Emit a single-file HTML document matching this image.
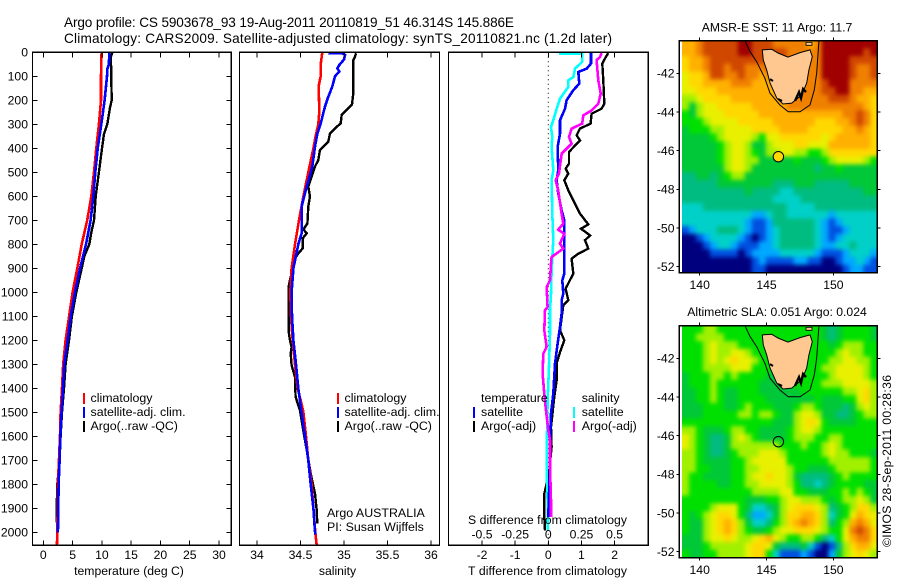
<!DOCTYPE html>
<html lang="en">
<head>
<meta charset="utf-8">
<title>Argo profile CS 5903678_93</title>
<style>
html,body{margin:0;padding:0;background:#fff;}
svg{display:block;}
text{font-family:"Liberation Sans",sans-serif;font-size:12.2px;fill:#000;}
.title{font-size:13.6px;}
.leg{font-size:12.4px;}
.ln{fill:none;stroke-linejoin:miter;shape-rendering:crispEdges;}
.frame{fill:none;stroke:#000;stroke-width:1.4;shape-rendering:crispEdges;}
</style>
</head>
<body>
<svg id="chart" xmlns="http://www.w3.org/2000/svg" width="900" height="580" viewBox="0 0 900 580">
  <defs>
    <filter id="soft" x="-5%" y="-5%" width="110%" height="110%" color-interpolation-filters="sRGB"><feGaussianBlur stdDeviation="2.2"/></filter>
    <clipPath id="clip-sst"><rect x="682" y="40.7" width="195.3" height="232"/></clipPath>
    <clipPath id="clip-sla"><rect x="682" y="325.7" width="195.3" height="232"/></clipPath>
  </defs>
  <rect width="900" height="580" fill="#fff"/>
  <g id="maps"></g>
  <g id="profiles"></g>
  <g id="axes"></g>
  <text class="title" x="64" y="27" textLength="450" lengthAdjust="spacing">Argo profile: CS 5903678_93 19-Aug-2011 20110819_51 46.314S 145.886E</text>
  <text class="title" x="64" y="43" textLength="548" lengthAdjust="spacing">Climatology: CARS2009. Satellite-adjusted climatology: synTS_20110821.nc (1.2d later)</text>

  <text x="129" y="575" text-anchor="middle">temperature (deg C)</text>
  <text x="337.5" y="575" text-anchor="middle">salinity</text>
  <text x="547.5" y="575" text-anchor="middle" textLength="159" lengthAdjust="spacing">T difference from climatology</text>
  <text x="547.5" y="524" text-anchor="middle" textLength="159" lengthAdjust="spacing">S difference from climatology</text>

  <g>
    <rect x="83" y="393" width="2" height="11" fill="#f00"/>
    <rect x="83" y="407" width="2" height="11" fill="#00f"/>
    <rect x="83" y="421" width="2" height="11" fill="#000"/>
    <text class="leg" x="90.5" y="402">climatology</text>
    <text class="leg" x="90.5" y="416">satellite-adj. clim.</text>
    <text class="leg" x="90.5" y="430">Argo(..raw -QC)</text>
  </g>
  <g>
    <rect x="337" y="393" width="2" height="11" fill="#f00"/>
    <rect x="337" y="407" width="2" height="11" fill="#00f"/>
    <rect x="337" y="421" width="2" height="11" fill="#000"/>
    <text class="leg" x="344.5" y="402">climatology</text>
    <text class="leg" x="344.5" y="416">satellite-adj. clim.</text>
    <text class="leg" x="344.5" y="430">Argo(..raw -QC)</text>
  </g>
  <text class="leg" x="327" y="517">Argo AUSTRALIA</text>
  <text class="leg" x="327" y="531">PI: Susan Wijffels</text>

  <g>
    <text class="leg" x="481" y="402">temperature</text>
    <rect x="473" y="407" width="2" height="11" fill="#00f"/>
    <rect x="473" y="421" width="2" height="11" fill="#000"/>
    <text class="leg" x="481" y="416">satellite</text>
    <text class="leg" x="481" y="430">Argo(-adj)</text>
    <text class="leg" x="581.7" y="402">salinity</text>
    <rect x="573" y="407" width="2" height="11" fill="#00ffff"/>
    <rect x="573" y="421" width="2" height="11" fill="#ff00ff"/>
    <text class="leg" x="581.7" y="416">satellite</text>
    <text class="leg" x="581.7" y="430">Argo(-adj)</text>
  </g>

  <text x="777" y="31.5" text-anchor="middle">AMSR-E SST: 11 Argo: 11.7</text>
  <text x="777" y="316" text-anchor="middle">Altimetric SLA: 0.051 Argo: 0.024</text>
  <text transform="translate(891,547) rotate(-90)" textLength="172" lengthAdjust="spacing">©IMOS 28-Sep-2011 00:28:36</text>
</svg>

<script>
/* ---------- profile data ---------- */
const depthTicks = [0,100,200,300,400,500,600,700,800,900,1000,1100,1200,1300,1400,1500,1600,1700,1800,1900,2000];
const tempTicks = [0,5,10,15,20,25,30];
const salTicks = [34,34.5,35,35.5,36];
const salTickLabels = ["34","34.5","35","35.5","36"];
const tDiffTicks = [-2,-1,0,1,2];
const sDiffTicks = [-0.5,-0.25,0,0.25,0.5];
const sDiffTickLabels = ["-0.5","-0.25","0","0.25","0.5"];

const tempClimDepth = [0,100,200,300,400,500,600,700,800,900,1000,1100,1200,1300,1400,1500,1600,1800,2000,2055];
const tempClim = [9.96,9.85,9.85,9.5,9.05,8.65,8.2,7.5,6.55,5.8,5.0,4.4,3.8,3.4,3.2,2.95,2.85,2.5,2.4,2.33];
const tempSatDepth = [0,50,70,100,200,300,400,500,600,700,800,900,1000,1100,1200,1300,1400,1500,1600,1700,1800,1900,2000];
const tempSat = [11.27,11.2,10.93,10.87,10.47,9.9,9.28,8.88,8.54,8.08,7.29,6.26,5.41,4.67,4.15,3.59,3.36,3.13,2.9,2.79,2.62,2.56,2.5];
const tempArgoDepth = [0,20,200,230,300,340,400,500,600,700,750,800,850,900,1000,1100,1200,1300,1400,1500,1600,1700,1800,1900,1960];
const tempArgo = [11.78,11.55,11.67,11.38,10.93,10.36,10.02,9.5,8.94,8.65,8.2,7.85,7.0,6.55,5.63,4.89,4.38,3.81,3.53,3.19,2.96,2.79,2.39,2.28,2.28];

const salClimDepth = [0,50,100,140,250,300,350,400,500,600,700,800,900,1000,1100,1200,1300,1400,1450,1500,1600,1700,1800,1900,2000,2055];
const salClim = [34.751,34.732,34.732,34.709,34.716,34.705,34.674,34.648,34.59,34.533,34.483,34.437,34.398,34.383,34.391,34.41,34.437,34.467,34.502,34.533,34.563,34.59,34.628,34.648,34.67,34.686];
const salSatDepth = [3,5,11,30,53,67,80,100,143,185,226,296,340,393,476,560,643,754,800,900,1000,1100,1200,1300,1400,1500,1600,1700,1800,1900,1980,2010];
const salSat = [34.82,34.992,35.011,35.0,34.946,34.923,34.946,34.897,34.866,34.82,34.782,34.732,34.693,34.667,34.636,34.571,34.513,34.513,34.475,34.418,34.398,34.402,34.418,34.448,34.475,34.513,34.552,34.59,34.617,34.648,34.663,34.67];
const salArgoDepth = [4,18,32,171,217,247,261,296,317,338,372,407,449,476,518,560,601,643,713,738,754,775,817,838,858,893,949,976,1032,1165,1200,1228,1256,1304,1353,1436,1492,1561,1617,1672,1756,1839,1908,1964];
const salArgo = [35.138,35.126,35.107,35.107,35.092,35.011,34.973,34.962,34.897,34.839,34.82,34.724,34.705,34.667,34.628,34.59,34.609,34.59,34.579,34.533,34.571,34.525,34.525,34.475,34.437,34.418,34.379,34.364,34.364,34.364,34.379,34.398,34.387,34.398,34.437,34.444,34.494,34.525,34.552,34.579,34.617,34.667,34.686,34.693];

const tDiffSatDepth = [3,47,68,82,131,158,200,235,283,339,394,492,533,589,658,700,922,950,1006,1033,1089,1144,1214,1297,1422,1506,1617,1728,1839,1936];
const tDiffSat = [1.287,1.287,1.157,0.905,0.935,0.754,0.553,0.503,0.352,0.352,0.282,0.302,0.251,0.302,0.402,0.483,0.483,0.422,0.453,0.402,0.402,0.352,0.281,0.201,0.151,0.08,0.05,0.05,0.02,0];
const tDiffArgoDepth = [3,26,47,117,214,235,256,297,318,346,367,415,464,485,506,533,575,617,672,717,735,763,783,818,839,860,922,957,985,1033,1054,1158,1200,1249,1297,1367,1436,1561,1644,1756,1839,1936,1992];
const tDiffArgo = [1.81,1.709,1.629,1.659,1.689,1.609,1.307,1.277,0.955,0.855,0.955,0.623,0.623,0.523,0.603,0.483,0.603,0.754,0.955,1.207,0.985,1.257,1.106,1.207,0.905,0.704,0.754,0.623,0.523,0.603,0.452,0.352,0.483,0.352,0.251,0.251,0.181,0.08,0.1,0.02,-0.121,-0.121,-0.1];
const sDiffSatDepth = [5,6,40,68,103,117,144,193,235,283,311,353,394,492,533,672,783,908,1006,1075,1172,1311,1450,1589,1728,1867,1992];
const sDiffSat = [0.08,0.256,0.256,0.201,0.189,0.151,0.151,0.088,0.063,0.038,0.02,0.03,0.025,0.038,0.025,0.03,0.038,0.025,0.02,0.013,0.013,0.005,-0.005,-0.01,-0.013,-0.005,-0.005];
const sDiffArgoDepth = [3,19,33,117,172,214,242,263,297,318,353,381,422,506,533,575,672,714,739,756,797,818,853,881,950,978,1061,1075,1158,1228,1256,1339,1422,1478,1575,1617,1728,1867,1936];
const sDiffArgo = [0.402,0.39,0.364,0.377,0.395,0.377,0.327,0.264,0.256,0.176,0.156,0.176,0.101,0.08,0.055,0.075,0.1,0.113,0.075,0.121,0.088,0.113,0.025,0.02,0.013,-0.013,-0.005,-0.025,-0.03,-0.013,-0.038,-0.043,-0.03,-0.02,0,0.013,0.013,0.02,0.02];

/* ---------- map data ---------- */
const lonTicks = [140,145,150];
const latTicks = [-42,-44,-46,-48,-50,-52];
const argoLon = 145.886;
const argoLat = -46.314;
const levelColors = ["#00007f","#0050e0","#00a8ff","#00d0c8","#00bc80","#00c838","#00e000","#a0f000","#e8f000","#ffd800","#ffb000","#f08000","#d04800","#a00000"];
const coastLon = [144.68,145.39,145.86,146.6,147.5,148.25,148.42,148.17,148.0,147.63,146.88,146.23,145.76,145.26,145.01,144.76];
const coastLat = [-40.79,-40.76,-40.95,-41.16,-40.93,-40.79,-41.14,-41.83,-42.5,-43.12,-43.54,-43.59,-43.28,-42.5,-41.83,-41.31];
const shelfLon = [143.39,143.77,144.26,144.88,145.26,146.0,146.63,147.5,148.25,148.57,148.75,148.87,148.92];
const shelfLat = [-40.32,-40.88,-41.4,-42.26,-43.03,-43.64,-43.99,-43.99,-43.64,-42.86,-41.98,-40.79,-40.31];
const inletLon = [147.13,147.43,147.58,147.73,147.95];
const inletLat = [-43.43,-42.97,-43.28,-42.81,-42.97];
const inletSouthLon = [145.86,146.16];
const inletSouthLat = [-43.33,-43.43];
const inletWestLon = [145.26,145.48];
const inletWestLat = [-42.3,-42.4];
const islandLon = [147.95,148.4,148.4,147.95];
const islandLat = [-40.4,-40.4,-40.55,-40.55];

const sstGrid = [
[10,10,11,12,12,12,12,12,13,13,12,12,12,11,11,11,11,11,10,11,13,13,13,13,13,13,13,13],
[10,10,11,12,12,12,12,12,13,13,12,12,12,12,12,11,11,11,11,11,13,13,13,13,13,13,12,13],
[9,10,10,11,12,12,12,12,12,12,12,12,12,12,12,11,11,11,11,11,13,13,13,13,12,12,12,12],
[9,10,10,11,12,12,11,12,12,11,11,11,12,12,12,11,11,11,11,11,13,13,13,13,12,11,11,12],
[8,9,9,10,12,12,11,11,12,11,11,10,11,12,12,11,11,11,11,11,13,13,13,13,12,11,11,12],
[8,9,9,10,10,10,10,11,11,11,10,10,10,11,11,11,11,11,11,11,12,13,13,13,11,11,11,11],
[8,8,9,9,9,10,10,10,10,10,10,10,10,10,10,11,11,11,11,11,12,12,13,13,11,11,10,10],
[7,7,8,9,9,9,9,10,10,10,10,10,10,10,10,11,11,11,11,11,11,12,12,12,11,10,10,9],
[7,5,7,8,8,9,9,9,9,9,10,10,10,10,10,11,11,11,11,11,11,11,11,11,11,11,10,9],
[6,5,7,8,8,8,9,9,9,9,9,10,10,10,10,10,10,10,10,10,10,10,10,11,11,12,11,9],
[6,6,6,7,8,8,8,8,9,9,9,9,9,10,10,10,10,10,10,9,9,9,10,10,11,12,11,9],
[5,6,6,6,7,7,8,8,8,8,9,9,9,9,10,10,10,10,9,9,9,9,9,10,10,11,10,9],
[5,5,5,5,6,7,8,8,8,8,7,6,8,8,9,9,9,9,9,9,8,9,10,10,10,10,10,9],
[5,5,5,5,5,6,7,8,8,7,5,5,7,8,8,8,9,9,8,8,8,10,10,10,10,10,10,9],
[5,5,5,5,5,6,7,8,8,7,6,5,7,7,8,8,7,7,6,6,7,9,9,9,9,9,9,9],
[5,5,5,5,5,6,7,8,8,7,7,5,5,5,5,5,6,5,5,5,6,7,8,8,8,8,7,6],
[5,5,5,5,5,5,7,8,8,7,5,5,5,5,5,5,5,5,5,4,5,5,6,5,5,5,5,5],
[4,4,5,5,4,5,6,7,7,5,5,5,5,5,5,5,5,5,5,5,5,5,5,5,5,5,5,5],
[4,4,4,4,4,5,5,5,5,5,5,5,5,4,4,4,5,5,5,4,4,4,4,4,5,5,5,5],
[4,4,4,4,4,4,4,4,4,5,4,4,4,4,3,3,4,4,4,4,4,4,4,4,4,4,5,5],
[4,4,4,4,4,4,4,4,4,4,4,4,4,3,3,3,3,4,4,4,4,4,4,4,4,4,4,4],
[3,3,3,4,4,4,4,4,4,4,4,4,4,4,4,3,3,3,3,4,4,4,4,4,4,4,4,4],
[3,3,3,3,3,3,3,3,3,3,2,2,3,4,4,3,3,3,3,3,3,2,3,3,3,3,3,3],
[3,3,3,3,3,3,3,3,3,2,1,1,2,4,4,4,4,4,4,3,2,1,2,3,3,3,3,3],
[1,2,3,3,3,4,4,4,3,2,1,1,2,3,4,4,4,4,4,3,2,1,1,2,3,3,3,3],
[0,0,1,2,3,3,3,3,2,1,0,1,2,3,4,4,4,4,4,3,2,1,2,3,3,3,3,3],
[0,0,0,1,2,3,3,2,1,1,1,2,2,3,4,4,4,4,4,3,2,2,3,3,4,3,3,3],
[0,0,0,0,1,1,1,1,0,1,2,2,2,2,3,3,3,3,3,2,1,1,1,2,3,3,3,2],
[0,0,0,0,0,0,0,0,0,0,1,2,1,1,1,1,2,2,1,1,0,0,1,2,2,3,2,1],
[0,0,0,0,0,0,0,0,0,0,1,1,0,0,0,0,0,0,0,0,0,0,0,1,2,2,1,1]
];
const slaGrid = [
[6,6,6,7,7,6,6,6,6,6,6,6,6,6,6,6,6,6,6,6,5,4,5,6,6,6,6,5],
[6,6,7,7,7,7,6,6,6,6,6,6,6,6,6,6,6,6,6,6,5,4,5,6,6,6,6,5],
[6,6,6,7,8,7,7,7,6,6,6,6,6,6,6,6,6,6,6,6,6,5,6,7,7,7,6,6],
[6,6,6,7,8,7,7,8,8,7,6,6,6,6,6,6,6,6,6,6,6,6,7,8,7,7,6,6],
[6,6,6,7,8,7,8,9,8,8,7,6,6,6,6,6,6,6,6,6,6,7,7,8,8,7,7,6],
[6,6,6,7,7,7,7,8,8,8,6,6,6,6,6,6,6,6,6,6,7,7,8,8,8,8,7,6],
[5,6,6,6,7,7,6,7,6,6,6,6,5,5,6,6,6,6,6,6,6,7,8,8,8,8,7,6],
[5,6,6,6,7,6,6,6,6,6,6,5,5,5,5,6,6,6,6,6,7,7,7,8,8,8,8,7],
[5,5,6,6,7,6,5,5,6,6,6,5,5,5,5,5,5,6,6,6,6,6,6,7,7,8,9,7],
[5,5,6,6,7,6,5,5,6,6,6,6,5,5,5,5,5,5,5,6,5,5,5,6,6,8,9,7],
[5,5,5,6,6,6,5,5,6,7,6,6,6,5,5,5,6,7,7,6,5,5,5,4,5,7,8,7],
[5,5,5,6,6,6,6,6,7,7,6,7,7,6,5,5,7,8,8,7,5,5,4,4,5,6,7,7],
[6,6,6,6,6,6,6,6,6,6,6,6,6,5,5,5,7,8,9,8,6,5,5,5,5,6,6,6],
[7,7,6,5,5,5,6,7,7,6,6,5,5,5,5,6,7,8,8,7,6,6,6,6,6,6,6,6],
[8,7,6,5,4,4,5,7,8,7,6,5,5,5,5,6,7,7,7,6,6,7,7,6,6,6,6,6],
[8,7,6,5,4,4,5,7,7,7,7,7,7,7,6,6,6,7,6,6,7,8,7,6,6,6,6,6],
[7,7,6,5,4,4,5,6,7,7,7,8,8,8,7,6,6,6,6,6,7,8,7,7,6,6,6,5],
[7,7,6,5,5,5,5,6,6,7,8,8,8,8,8,6,6,6,6,6,6,7,7,7,7,7,7,6],
[7,7,6,6,5,5,5,6,6,7,7,8,8,8,8,7,6,6,5,5,5,6,7,7,7,7,7,6],
[7,6,6,5,5,5,5,6,6,7,8,8,9,8,8,7,5,4,4,4,4,5,6,7,6,6,6,6],
[7,6,6,6,6,5,5,6,6,7,7,8,8,8,8,7,6,4,4,3,4,5,6,6,6,6,5,5],
[7,6,6,6,6,6,6,6,6,6,7,7,7,7,8,8,6,6,5,5,5,6,6,7,6,7,6,5],
[6,6,6,6,6,6,6,6,6,5,5,5,6,6,7,8,8,7,7,7,6,5,6,7,7,8,7,5],
[6,6,6,6,7,8,8,8,6,5,3,3,4,5,7,8,9,9,9,8,7,4,5,6,7,9,9,7],
[6,5,6,7,8,9,9,8,6,4,2,2,3,5,7,9,9,10,10,9,7,3,5,6,8,10,9,8],
[6,5,5,7,8,9,10,9,7,5,3,3,4,6,7,9,10,11,10,9,7,4,6,7,10,11,10,8],
[6,5,5,7,8,9,10,9,7,6,5,5,6,7,8,8,9,9,9,8,7,6,6,8,11,12,11,9],
[5,5,5,7,8,8,9,8,7,7,8,9,10,8,7,6,6,7,7,6,4,3,6,8,10,11,11,9],
[5,5,5,6,7,7,7,7,7,8,9,9,8,5,4,4,4,5,3,1,0,1,4,7,9,10,10,8],
[6,5,5,6,6,7,7,7,7,8,9,9,6,3,1,1,1,2,1,0,0,2,5,7,8,9,8,7]
];

/* ---------- drawing ---------- */
const NS = "http://www.w3.org/2000/svg";
const profilesG = document.getElementById("profiles");
const axesG = document.getElementById("axes");
const mapsG = document.getElementById("maps");

function make(tag, attrs, parent) {
  const n = document.createElementNS(NS, tag);
  for (const k in attrs) n.setAttribute(k, attrs[k]);
  parent.appendChild(n);
  return n;
}

const plotTop = 52.3, plotBottom = 545.3;
const yDepth = d => plotTop + d * 0.24;
const xTemp = v => 43.3 + v * 5.857;
const xSal = v => 257 + (v - 34) * 87;
const xTDiff = v => 548.3 + v * 33.15;
const xSDiff = v => 548.3 + v * 132.6;

function profile(depths, values, xf, color, width, name) {
  const pts = values.map((v, i) => xf(v).toFixed(1) + "," + yDepth(depths[i]).toFixed(1)).join(" ");
  const line = make("polyline", {points: pts, class: "ln", stroke: color, "stroke-width": width}, profilesG);
  
  
}

function frame(x0, x1, y0, y1, name) {
  const r = make("rect", {x: x0, y: y0, width: x1 - x0, height: y1 - y0, class: "frame"}, axesG);
  
  
}

function tick(x1, y1, x2, y2) {
  const t = make("line", {x1, y1, x2, y2, stroke: "#000", "stroke-width": 1, "shape-rendering": "crispEdges"}, axesG);
  
  
}

function label(x, y, str, anchor) {
  const t = make("text", {x, y, "text-anchor": anchor}, axesG);
  t.textContent = str;
  
  
}

function xTicks(values, labels, xf, labelY) {
  values.forEach((v, i) => {
    const x = xf(v);
    tick(x, plotTop, x, plotTop + 5);
    tick(x, plotBottom, x, plotBottom - 5);
    if (labelY) label(x, labelY, labels[i], "middle");
  });
}

/* temperature panel */
profile(tempArgoDepth, tempArgo, xTemp, "#000", 2.4, "temperature-argo-line");
profile(tempClimDepth, tempClim, xTemp, "#f00", 2.6, "temperature-climatology-line");
profile(tempSatDepth, tempSat, xTemp, "#00f", 2.6, "temperature-satellite-line");
frame(32.5, 231.3, plotTop, plotBottom, "temperature-panel-frame");
xTicks(tempTicks, tempTicks.map(String), xTemp, 559);
depthTicks.forEach(d => {
  const y = yDepth(d);
  tick(32.5, y, 37.5, y);
  tick(231.3, y, 226.3, y);
  label(28, y + 4.4, String(d), "end");
});

/* salinity panel */
profile(salArgoDepth, salArgo, xSal, "#000", 2.4, "salinity-argo-line");
profile(salClimDepth, salClim, xSal, "#f00", 2.6, "salinity-climatology-line");
profile(salSatDepth, salSat, xSal, "#00f", 2.6, "salinity-satellite-line");
frame(239.5, 439.5, plotTop, plotBottom, "salinity-panel-frame");
xTicks(salTicks, salTickLabels, xSal, 559);

/* difference panel */
const zeroLine = make("line", {x1: xTDiff(0), y1: plotTop, x2: xTDiff(0), y2: plotBottom, stroke: "#000", "stroke-width": 1, "stroke-dasharray": "1 3.5"}, profilesG);


profile(tDiffArgoDepth, tDiffArgo, xTDiff, "#000", 2.4, "t-difference-argo-line");
profile(sDiffSatDepth, sDiffSat, xSDiff, "#00ffff", 2.6, "s-difference-satellite-line");
profile(tDiffSatDepth, tDiffSat, xTDiff, "#00f", 2.6, "t-difference-satellite-line");
profile(sDiffArgoDepth, sDiffArgo, xSDiff, "#ff00ff", 2.6, "s-difference-argo-line");
frame(448.5, 648.3, plotTop, plotBottom, "difference-panel-frame");
xTicks(tDiffTicks, tDiffTicks.map(String), xTDiff, 559);
sDiffTicks.forEach((v, i) => label(xSDiff(v), 538.7, sDiffTickLabels[i], "middle"));

/* maps */
function drawMap(grid, top, prefix, markerFill) {
  const lat0 = -42, y42 = top + 32.6;
  const xLon = lon => 699.7 + (lon - 140) * 13.37;
  const yLat = lat => y42 + (lat0 - lat) * 19.33;
  const lonStart = 138.68, lonStep = 14.6 / 28, latStart = -40.31, latStep = 12 / 30;
  const clipG = make("g", {"clip-path": "url(#clip-" + prefix + ")"}, mapsG);
  
  
  const softG = make("g", {filter: "url(#soft)"}, clipG);
  const pad = 10;
  grid.forEach((row, r) => {
    row.forEach((lev, c) => {
      let x0 = xLon(lonStart + c * lonStep), y0 = yLat(latStart - r * latStep);
      let x1 = xLon(lonStart + (c + 1) * lonStep), y1 = yLat(latStart - (r + 1) * latStep);
      if (c === 0) x0 -= pad;
      if (c === row.length - 1) x1 += pad;
      if (r === 0) y0 -= pad;
      if (r === grid.length - 1) y1 += pad;
      const cell = make("rect", {x: x0.toFixed(2), y: y0.toFixed(2), width: (x1 - x0 + 0.4).toFixed(2), height: (y1 - y0 + 0.4).toFixed(2), fill: levelColors[lev]}, softG);
      
      
    });
  });
  const pts = (lons, lats) => lons.map((v, i) => xLon(v).toFixed(1) + "," + yLat(lats[i]).toFixed(1)).join(" ");
  const shelf = make("polyline", {points: pts(shelfLon, shelfLat), fill: "none", stroke: "#000", "stroke-width": 1}, mapsG);
  
  
  const land = make("polygon", {points: pts(coastLon, coastLat), fill: "#ffc890", stroke: "#000", "stroke-width": 1}, mapsG);
  
  
  const inlet = make("polyline", {points: pts(inletLon, inletLat), fill: "none", stroke: "#000", "stroke-width": 2.4}, mapsG);
  
  
  const inletS = make("polyline", {points: pts(inletSouthLon, inletSouthLat), fill: "none", stroke: "#000", "stroke-width": 2}, mapsG);
  
  
  const inletW = make("polyline", {points: pts(inletWestLon, inletWestLat), fill: "none", stroke: "#000", "stroke-width": 2}, mapsG);
  
  
  const island = make("polygon", {points: pts(islandLon, islandLat), fill: "#ffc890", stroke: "#000", "stroke-width": 0.8}, mapsG);
  
  
  const marker = make("circle", {cx: xLon(argoLon), cy: yLat(argoLat), r: 5.2, fill: markerFill, stroke: "#000", "stroke-width": 1}, mapsG);
  
  

  const left = 679.3, right = 877.3, bottom = top + 232;
  frame(left, right, top, bottom, prefix + "-map-frame");
  lonTicks.forEach(v => {
    const x = xLon(v);
    tick(x, top, x, top - 3);
    tick(x, bottom, x, bottom + 3);
    label(x, bottom + 16.5, String(v), "middle");
  });
  latTicks.forEach(v => {
    const y = yLat(v);
    tick(left, y, left - 3, y);
    tick(right, y, right + 3, y);
    label(674.5, y + 4.4, String(v), "end");
  });
}
drawMap(sstGrid, 40.7, "sst", "#ffd800");
drawMap(slaGrid, 325.7, "sla", "none");
</script>
</body>
</html>
